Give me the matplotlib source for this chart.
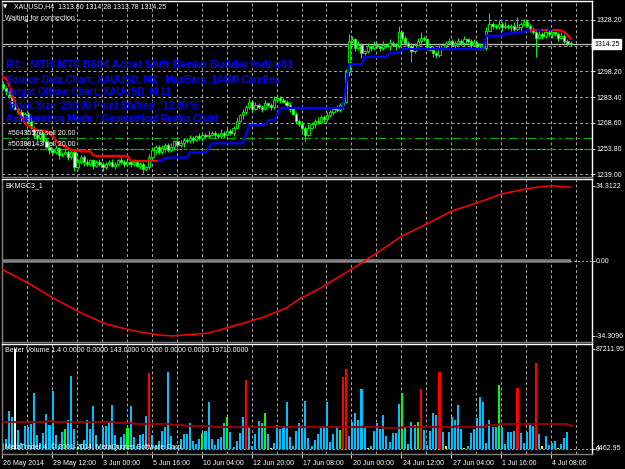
import numpy as np
import matplotlib
matplotlib.use('Agg')
import matplotlib.pyplot as plt
from matplotlib.transforms import blended_transform_factory

plt.rcParams['font.family'] = ['Liberation Sans', 'DejaVu Sans']

W, H = 625, 469

# ---------------- data ----------------
first_open = 1291
closes = [
    1289, 1287, 1284, 1280, 1277, 1275, 1272, 1274, 1270, 1266,
    1262, 1260, 1263, 1258, 1255, 1253, 1252, 1254, 1250, 1251,
    1252, 1249, 1252, 1243, 1246, 1249, 1246, 1245, 1247, 1244,
    1246, 1245, 1243, 1245, 1246, 1244, 1245, 1247, 1246, 1245,
    1246, 1245, 1246, 1244, 1245, 1242, 1243, 1249, 1253, 1255,
    1252, 1254, 1256, 1253, 1255, 1258, 1256, 1257, 1259, 1258,
    1260, 1259, 1261, 1260, 1262, 1261, 1262, 1263, 1262, 1261,
    1263, 1262, 1264, 1263, 1266, 1270, 1273, 1275, 1278, 1281,
    1277, 1279, 1278, 1277, 1280, 1279, 1278, 1282, 1283, 1282,
    1281, 1279, 1277, 1274, 1270, 1268, 1266, 1262, 1266, 1268,
    1270, 1269, 1272, 1271, 1273, 1275, 1277, 1276, 1279, 1281,
    1298, 1316, 1317, 1312, 1314, 1309, 1310, 1313, 1312, 1314,
    1313, 1312, 1314, 1313, 1315, 1314, 1313, 1321, 1318, 1315,
    1313, 1310, 1314, 1316, 1318, 1317, 1313, 1311, 1309, 1308,
    1312, 1314, 1315, 1316, 1314, 1315, 1316, 1315, 1317, 1316,
    1314, 1315, 1313, 1314, 1312, 1322, 1326, 1325, 1324, 1326,
    1324, 1325, 1324, 1325, 1323, 1324, 1326, 1327, 1325, 1323,
    1321, 1318, 1320, 1319, 1321, 1320, 1321, 1320, 1318, 1319,
    1316, 1315, 1314.25]
wick_up = [
    2, 1, 2, 1, 2, 1, 2, 1, 1, 2,
    1, 2, 1, 1, 2, 1, 1, 2, 1, 1,
    2, 1, 1, 1, 2, 1, 1, 2, 1, 1,
    1, 2, 1, 1, 1, 2, 1, 1, 2, 1,
    1, 1, 2, 1, 1, 1, 1, 2, 2, 1,
    1, 2, 1, 1, 2, 1, 1, 2, 1, 1,
    2, 1, 1, 2, 1, 1, 2, 1, 1, 1,
    2, 1, 2, 1, 1, 2, 1, 2, 1, 2,
    1, 2, 1, 1, 2, 1, 1, 2, 2, 1,
    1, 1, 2, 1, 1, 1, 2, 1, 2, 1,
    1, 2, 1, 1, 2, 1, 1, 2, 1, 1,
    2, 4, 2, 1, 2, 1, 1, 2, 1, 2,
    1, 1, 2, 1, 2, 1, 1, 4, 1, 1,
    1, 2, 1, 2, 3, 1, 1, 1, 2, 1,
    2, 1, 1, 2, 1, 1, 2, 1, 2, 1,
    1, 2, 1, 1, 1, 2, 6, 1, 1, 2,
    1, 2, 1, 1, 2, 6, 1, 2, 1, 1,
    1, 1, 2, 1, 1, 2, 1, 1, 1, 2,
    1, 1, 1]
wick_dn = [
    1, 2, 1, 2, 1, 1, 2, 1, 2, 1,
    2, 1, 1, 2, 1, 2, 1, 1, 2, 1,
    1, 2, 1, 2, 1, 1, 2, 1, 1, 2,
    1, 1, 2, 1, 1, 1, 2, 1, 1, 2,
    1, 2, 1, 1, 2, 2, 1, 1, 1, 2,
    1, 1, 2, 1, 1, 2, 1, 1, 2, 1,
    1, 2, 1, 1, 2, 1, 1, 1, 2, 1,
    1, 2, 1, 1, 2, 1, 1, 2, 1, 1,
    2, 1, 1, 2, 1, 1, 2, 1, 1, 2,
    1, 1, 2, 1, 2, 1, 2, 4, 1, 1,
    2, 1, 1, 2, 1, 1, 2, 1, 1, 2,
    1, 2, 1, 2, 1, 3, 1, 1, 2, 1,
    1, 2, 1, 1, 2, 1, 2, 1, 2, 1,
    1, 6, 1, 1, 2, 1, 2, 1, 2, 2,
    1, 1, 2, 1, 1, 2, 1, 1, 2, 1,
    2, 1, 1, 2, 1, 1, 1, 2, 1, 1,
    2, 1, 1, 2, 1, 1, 2, 1, 1, 2,
    1, 11, 1, 2, 1, 1, 2, 1, 2, 1,
    1, 2, 1]

# renko trend line (red part first, blue middle, red again at the end)
trend = ([1295.2, 1294.6, 1290.6, 1284.8, 1280.1, 1276.1, 1272.0, 1269.1, 1267.4, 1266.2,
          1265.7, 1264.5, 1264.5, 1263.9, 1263.9, 1262.7, 1261.0, 1258.7, 1257.0, 1255.8,
          1255.2, 1254.1, 1252.9, 1252.9, 1252.9, 1252.3, 1252.3, 1252.3, 1252.3, 1250.0,
          1249.6] + [1249.6] * 10 + [1246.7] * 10 + [1247.1, 1248.2] + [1248.7] * 7
         + [1251.7] * 6 + [1254.0] + [1256.9] * 11 + [1262.0] + [1267.4] * 6
         + [1270.3] * 3 + [1273.2] + [1277.4] * 21 + [1290.0] + [1302.7] * 5
         + [1306.8] * 8 + [1309.1] * 4 + [1311.4] * 27 + [1319.1] * 6 + [1320.5] * 4
         + [1321.3] * 3 + [1322.4] * 11 + [1322.0, 1321.2, 1319.6, 1317.4])
red_head_end = 51      # bars drawn red at the start
red_dash_start = 169   # red dashes over the blue line
red_tail_start = 178   # solid red at the end

order_prices = [1260.0, 1253.5]
order_labels = ['#50435570 sell 20.00', '#50388143 sell 20.00']
last_price = 1314.25

price_ticks = [1239.00, 1253.87, 1268.73, 1283.60, 1298.47, 1313.33, 1328.20]
price_labels = ['1239.00', '1253.80', '1268.60', '1283.40', '1298.20', '', '1328.20']

# BKMGC3_1 oscillator
osc_x = [0, 8, 16, 25, 33, 42, 50, 54, 57, 66, 74, 83, 91, 95, 102, 104, 112, 116,
         120, 128, 136, 144, 152, 160, 168, 172, 176, 182]
osc_y = [-4.1, -10.0, -16.9, -23.7, -28.8, -32.0, -33.8, -34.3, -34.0, -33.0, -29.7,
         -26.0, -21.5, -17.5, -12.3, -10.5, -3.7, 0.0, 3.7, 11.4, 16.9, 22.8, 26.5,
         30.6, 32.9, 33.8, 34.3, 33.6]

# Better Volume
volumes = [
    5500, 8700, 33100, 27900, 87212, 16600, 5200, 20100, 19200, 21800,
    48800, 12200, 5200, 14000, 30500, 20900, 50600, 12200, 3500, 14800,
    17400, 25300, 63700, 17400, 1700, 4400, 7800, 25300, 17400, 37500,
    12200, 2600, 19200, 20100, 22700, 38400, 12200, 3500, 10500, 13100,
    18300, 37500, 10500, 2600, 12200, 13100, 28800, 66300, 12200, 2600,
    7000, 15700, 19200, 67100, 11300, 2600, 900, 8700, 13100, 13100,
    22700, 7000, 4400, 8700, 14000, 15700, 41000, 8700, 3500, 8700,
    10500, 22700, 27900, 14800, 1700, 7000, 14000, 27900, 60200, 18300,
    2600, 13100, 24400, 22700, 31400, 13100, 900, 5200, 20900, 17400,
    20100, 41000, 10500, 2600, 15700, 22700, 18300, 41900, 9600, 2600,
    7800, 13100, 18300, 20100, 41000, 6100, 13100, 20100, 16600, 62800,
    69800, 11300, 23500, 31400, 25300, 52300, 18300, 900, 2600, 15700,
    22700, 17400, 29600, 11300, 6100, 14000, 14000, 39200, 48800, 19200,
    4400, 23500, 20900, 23500, 52300, 16600, 3500, 15700, 31400, 29600,
    67100, 14800, 2600, 14800, 27900, 25300, 38400, 17400, 900, 2600,
    14000, 17400, 27000, 45300, 41000, 5200, 25300, 19200, 19200, 55800,
    19200, 4400, 14800, 14800, 15700, 53200, 14000, 5200, 14800, 22700,
    20100, 75000, 13100, 2600, 11300, 3500, 5200, 7000, 900, 4400,
    9600, 14800, 400]
green_bars = [20, 40, 64, 72, 84, 108, 128, 133, 159]
red_bars = [47, 78, 109, 110, 134, 140, 165, 171]
yellow_bars = [24, 86, 117, 142, 148, 173, 178, 182]
white_bars = [4]
ma_bars = [0, 14, 16, 36, 42, 54, 58, 67, 122, 128, 138, 145, 146, 155, 159, 169, 174, 181, 182]
ma_vals = [23300, 24700, 23300, 22400, 21800, 20900, 20100, 18900, 18100, 18900,
           19500, 20300, 19500, 20900, 21500, 21800, 21500, 20900, 20100]

time_labels = ['26 May 2014', '29 May 12:00', '3 Jun 00:00', '5 Jun 16:00',
               '10 Jun 04:00', '12 Jun 20:00', '17 Jun 08:00', '20 Jun 00:00',
               '24 Jun 12:00', '27 Jun 04:00', '1 Jul 16:00', '4 Jul 08:00']

# ---------------- figure ----------------
fig = plt.figure(figsize=(W / 100, H / 100), dpi=100, facecolor='black')

XL = (-0.224, 188.88)   # 3.12 px per bar, first bar at x=2.7 px
grid_x = [-0.224 + 8 * k for k in range(1, 24)]
label_x = [-0.224 + 16 * k for k in range(len(time_labels))]
FS = 5.0


def px_ax(top, bottom):
    ax = fig.add_axes([2 / W, 1 - bottom / H, 590 / W, (bottom - top) / H], facecolor='black')
    ax.set_xlim(*XL)
    for s in ['left', 'top', 'bottom']:
        ax.spines[s].set_color('#808080')
    ax.spines['right'].set_color('white')
    ax.spines['top'].set_color('white')
    for s in ax.spines.values():
        s.set_linewidth(1)
    ax.yaxis.tick_right()
    ax.tick_params(axis='y', colors='white', labelsize=FS, length=2, width=0.6, pad=1)
    ax.tick_params(axis='x', bottom=False, labelbottom=False)
    for gx in grid_x:
        ax.axvline(gx, color='#a8a8a8', lw=0.7, dashes=(3, 2.5), zorder=1)
    return ax


def ftext(x, y, s, **kw):
    kw.setdefault('color', 'white')
    kw.setdefault('fontsize', FS)
    fig.text(x / W, 1 - y / H, s, ha='left', va='center', **kw)


ax1 = px_ax(1, 177)
ax2 = px_ax(179, 342)
ax3 = px_ax(343.5, 454)

# ---- main price chart ----
x = np.arange(len(closes))
c = np.array(closes, dtype=float)
o = np.array([first_open] + closes[:-1], dtype=float)
hi = np.maximum(o, c) + np.array(wick_up)
lo = np.minimum(o, c) - np.array(wick_dn)

ax1.set_ylim(1237.44, 1339.18)
ax1.set_yticks(price_ticks)
ax1.set_yticklabels(price_labels)
for p in price_ticks:
    ax1.axhline(p, color='#a8a8a8', lw=0.7, dashes=(3, 2.5), zorder=1)

ax1.axhline(last_price, color='#c0c0c0', lw=0.9, zorder=2)
for p, lab in zip(order_prices, order_labels):
    ax1.axhline(p, color='#00b000', lw=0.9, dashes=(7, 3, 2, 3), zorder=2)
    ax1.text(1.7, p + 0.8, lab, color='white', fontsize=FS, va='bottom', ha='left', zorder=6)

ax1.vlines(x, lo, hi, color='#00ff00', lw=0.7, zorder=3)
body = np.where(np.abs(c - o) < 0.3, 0.3, c - o)
bull = c >= o
ax1.bar(x[bull], body[bull], bottom=o[bull], width=0.72, facecolor='black',
        edgecolor='#00ff00', lw=0.6, zorder=4)
ax1.bar(x[~bull], body[~bull], bottom=o[~bull], width=0.72, facecolor='#e8ffe8',
        edgecolor='#00ff00', lw=0.6, zorder=4)

tr = np.array(trend)
ax1.plot(x[:red_head_end], tr[:red_head_end], color='#ff0000', lw=1.6, zorder=5)
ax1.plot(x[red_head_end - 1:red_tail_start + 1], tr[red_head_end - 1:red_tail_start + 1],
         color='#0000ff', lw=1.6, zorder=5)
ax1.plot(x[red_dash_start:red_tail_start + 1], tr[red_dash_start:red_tail_start + 1],
         color='#ff0000', lw=1.6, dashes=(3, 2), zorder=5)
ax1.plot(x[red_tail_start:], tr[red_tail_start:], color='#ff0000', lw=1.6, zorder=5)

ax1.text(1.0 + 2 / 590, last_price, '1314.25', transform=ax1.get_yaxis_transform(),
         color='black', fontsize=FS, ha='left', va='center', zorder=10, clip_on=False,
         bbox=dict(boxstyle='square,pad=0.25', fc='white', ec='white'))

ftext(3, 7, '\u25bc', fontsize=4, family='DejaVu Sans')
ftext(14, 7, 'XAUUSD,H4  1313.80 1314.28 1313.78 1314.25')
ftext(5, 18, 'Waiting for connection...')
blue_lines = [('R1:  MTH MT4 B604 Accel Shift Renko Builder Indi v01', 65, 8.0),
              ('Source Data Chart: XAUUSD, M1   MaxBars :14400 Candles', 79, 7.0),
              ('Target Offline Chart: XAUUSD, M 11', 92, 7.0),
              (' Brick Size :250.00 Point Shifted : 12.60 %', 106, 7.0),
              ('Acceleration Mode : Geometrical Renko Chart', 119, 7.0)]
for s, yy, fs in blue_lines:
    ftext(6, yy, s, color='#0000ff', fontsize=fs, fontweight='bold')

# ---- BKMGC3_1 ----
ax2.set_ylim(-37.05, 37.37)
ax2.set_yticks([34.3122, 0.0, -34.3096])
ax2.set_yticklabels(['34.3122', '0.00', '-34.3096'])
ax2.axhline(0, color='#a8a8a8', lw=0.7, dashes=(2, 2), zorder=1)
ax2.plot([x[0], x[-1]], [0, 0], color='#808080', lw=2.6, solid_capstyle='butt', zorder=2)
ax2.plot(osc_x, osc_y, color='#ff0000', lw=1.1, zorder=3)
ftext(5, 186, 'BKMGC3_1')

# ---- Better Volume ----
ax3.set_ylim(-4360, 91572)
ax3.set_yticks([87211.95, 0])
ax3.set_yticklabels(['87211.95', '0'])
ax3.axhline(0, color='#a8a8a8', lw=0.7, dashes=(2, 2), zorder=1)
vcol = ['#00bfff'] * len(volumes)
for i in green_bars:
    vcol[i] = '#00ff00'
for i in red_bars:
    vcol[i] = '#ff0000'
for i in yellow_bars:
    vcol[i] = '#ffff00'
for i in white_bars:
    vcol[i] = '#ffffff'
ax3.bar(x, volumes, width=0.66, color=vcol, zorder=2)
ax3.step(ma_bars + [ma_bars[-1] + 0.5], ma_vals + [ma_vals[-1]], where='post',
         color='#a00000', lw=1.3, zorder=3)
ax3.text(1.0 + 4 / 590, 0, '4462.95', transform=ax3.get_yaxis_transform(),
         color='white', fontsize=FS, ha='left', va='center', clip_on=False)
ftext(5, 350, 'Better Volume 1.4 0.0000 0.0000 143.0000 0.0000 0.0000 0.0000 19710.0000')
ftext(5, 447, 'MetaTrader 4, \u00a9 2001-2014, MetaQuotes Software Corp.', zorder=10)

# time axis
ax3.set_xticks(label_x)
ax3.tick_params(axis='x', bottom=True, colors='white', length=3, width=0.6, labelbottom=False)
tt = blended_transform_factory(ax3.transData, fig.transFigure)
for lx, lab in zip(label_x, time_labels):
    fig.text(lx + 0.4, 1 - 463 / H, lab, transform=tt, color='white', fontsize=FS,
             ha='left', va='center')

fig.savefig('out.png', dpi=100, facecolor='black')
